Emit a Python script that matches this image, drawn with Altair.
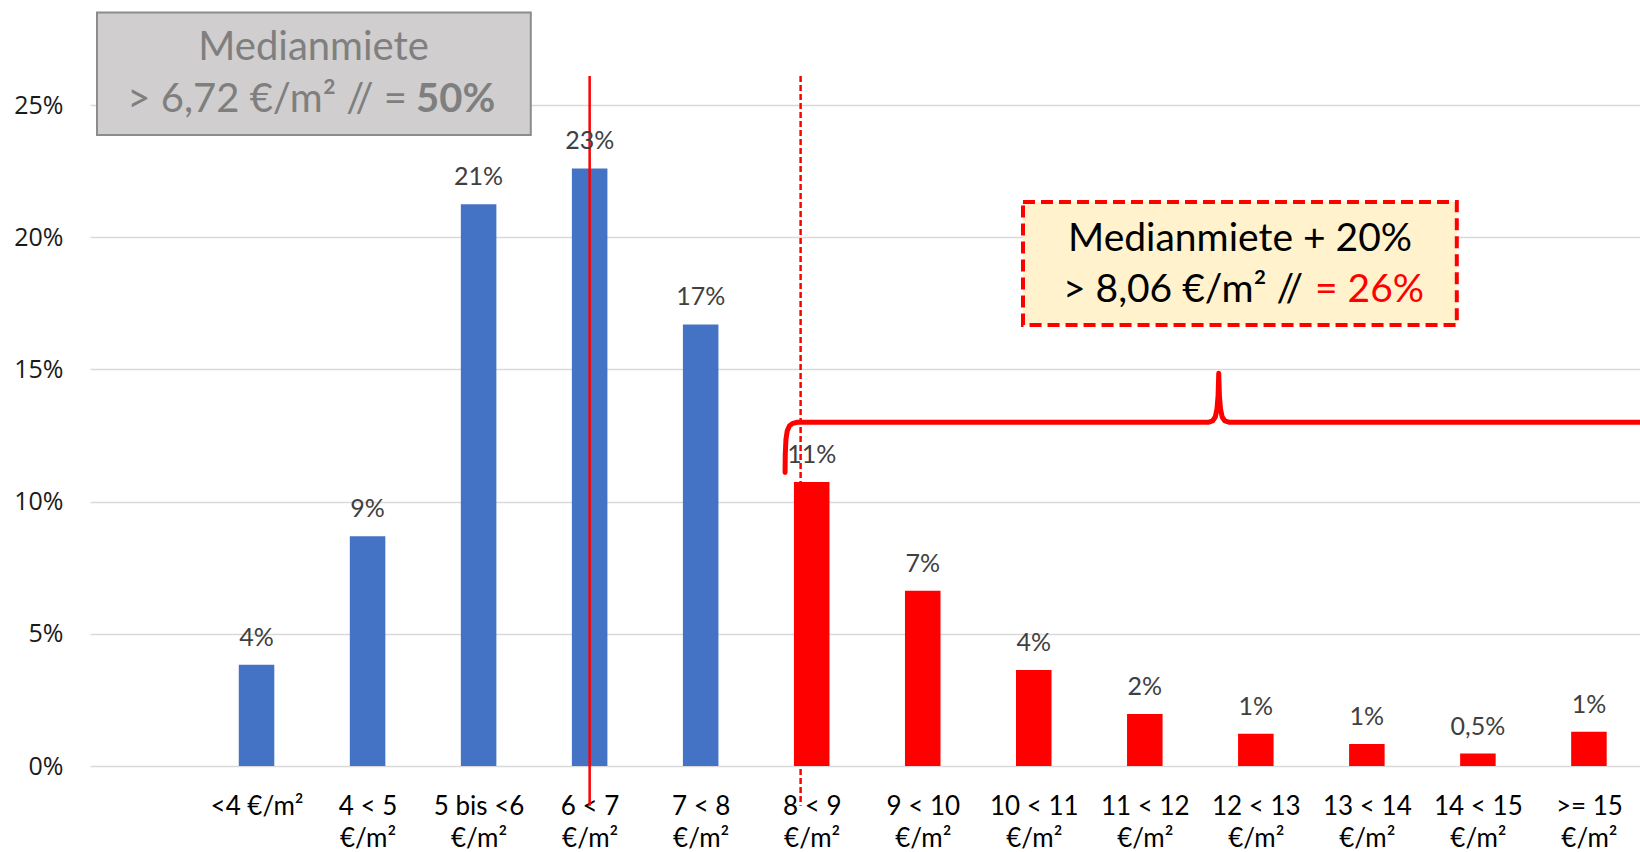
import json
import altair as alt
import pandas as pd

# Rent classes (share of listings per price band)
categories = [
    "<4 €/m²", "4 < 5\n€/m²", "5 bis <6\n€/m²", "6 < 7\n€/m²", "7 < 8\n€/m²",
    "8 < 9\n€/m²", "9 < 10\n€/m²", "10 < 11\n€/m²", "11 < 12\n€/m²",
    "12 < 13\n€/m²", "13 < 14\n€/m²", "14 < 15\n€/m²", ">= 15\n€/m²",
]
shares = [3.83, 8.69, 21.25, 22.6, 16.7, 10.74, 6.63, 3.63, 1.97, 1.22, 0.83, 0.47, 1.30]
share_labels = ["4%", "9%", "21%", "23%", "17%", "11%", "7%", "4%", "2%", "1%", "1%", "0,5%", "1%"]
segments = ["bis 8 €/m²"] * 5 + ["über 8 €/m²"] * 8
y_ticks = [0, 5, 10, 15, 20, 25]

BLUE = "#4472C4"
RED = "#FF0000"
FONT = "Lato"

# slot 0 of the axis is left empty, the bands start at slot 1
df = pd.DataFrame({
    "slot": [i + 1.5 for i in range(len(categories))],
    "share": shares,
    "label": share_labels,
    "segment": segments,
})

XMAX = 13.96
xscale = alt.Scale(domain=[0, XMAX], nice=False, zero=False)
yscale = alt.Scale(domain=[0, 25], nice=False, zero=True)

label_array = json.dumps(categories, ensure_ascii=False)
x_axis = alt.Axis(
    values=[i + 1.5 for i in range(len(categories))],
    labelExpr=f"split({label_array}[round(datum.value - 1.5)], '\\n')",
    grid=False, ticks=False, domain=False, title=None,
    labelFont=FONT, labelFontSize=26, labelColor="#000000",
    labelBaseline="top", labelPadding=27, labelLineHeight=32,
    labelFlush=False, labelOverlap=False, labelBound=False,
)
y_axis = alt.Axis(
    values=y_ticks, labelExpr="datum.value + '%'",
    grid=True, gridColor="#D9D9D9", gridWidth=1.5,
    ticks=False, domain=False, title=None,
    labelFont="Open Sans", labelFontSize=25, labelColor="#1A1A1A",
    labelPadding=27,
)


def X(field):
    return alt.X(field, type="quantitative", scale=xscale, axis=x_axis, title=None)


def Y(field):
    return alt.Y(field, type="quantitative", scale=yscale, axis=y_axis, title=None)


bars = alt.Chart(df).transform_calculate(
    x0="datum.slot - 0.16", x1="datum.slot + 0.16"
).mark_bar().encode(
    x=X("x0"),
    x2="x1:Q",
    y=Y("share"),
    y2=alt.datum(0),
    color=alt.Color("segment:N", scale=alt.Scale(domain=["bis 8 €/m²", "über 8 €/m²"],
                                                 range=[BLUE, RED]), legend=None),
)

value_labels = alt.Chart(df).mark_text(
    font=FONT, fontSize=25, color="#404040", baseline="middle", dy=-27
).encode(x=X("slot"), y=Y("share"), text="label:N")

# Median (6,72 €/m²) and median + 20 % (8,06 €/m²)
median_df = pd.DataFrame({"x": [4.5], "y": [26.1], "y2": [-1.5]})
median_plus_df = pd.DataFrame({"x": [6.4], "y": [26.1], "y2": [-1.5]})
median_rule = alt.Chart(median_df).mark_rule(color=RED, strokeWidth=2.5).encode(
    x=X("x"), y=Y("y"), y2="y2")
median_plus_rule = alt.Chart(median_plus_df).mark_rule(
    color=RED, strokeWidth=2.5, strokeDash=[6, 3]).encode(x=X("x"), y=Y("y"), y2="y2")

# Curly brace over the classes above median + 20 %
brace_x = [6.260, 6.262, 6.268, 6.280, 6.300, 6.330, 6.370, 10.070,
           10.110, 10.135, 10.150, 10.160, 10.166,
           10.172, 10.182, 10.197, 10.222, 10.262, XMAX]
brace_y = [11.10, 11.80, 12.35, 12.68, 12.87, 12.96, 13.0, 13.0,
           13.05, 13.2, 13.5, 14.0, 14.85,
           14.0, 13.5, 13.2, 13.05, 13.0, 13.0]
brace_df = pd.DataFrame({"x": brace_x, "y": brace_y, "o": range(len(brace_x))})
brace = alt.Chart(brace_df).mark_line(
    color=RED, strokeWidth=5, strokeCap="round", strokeJoin="round"
).encode(x=X("x"), y=Y("y"), order="o:Q")

# Box: Medianmiete
grey_box = alt.Chart(pd.DataFrame({"x": [0.063], "x2": [3.97], "y": [28.5], "y2": [23.87]})).mark_rect(
    fill="#D0CECE", stroke="#8C8C8C", strokeWidth=2
).encode(x=X("x"), x2="x2", y=Y("y"), y2="y2")
grey_line1 = alt.Chart(pd.DataFrame({"x": [2.014], "y": [27.15], "t": ["Medianmiete"]})).mark_text(
    font=FONT, fontSize=40, color="#7F7F7F", baseline="middle", align="center"
).encode(x=X("x"), y=Y("y"), text="t:N")
grey_line2a = alt.Chart(pd.DataFrame({"x": [2.855], "y": [25.18], "t": ["> 6,72 €/m² // ="]})).mark_text(
    font=FONT, fontSize=40, color="#7F7F7F", baseline="middle", align="right"
).encode(x=X("x"), y=Y("y"), text="t:N")
grey_line2b = alt.Chart(pd.DataFrame({"x": [2.936], "y": [25.18], "t": ["50%"]})).mark_text(
    font=FONT, fontSize=40, color="#7F7F7F", fontWeight="bold", baseline="middle", align="left"
).encode(x=X("x"), y=Y("y"), text="t:N")

# Box: Medianmiete + 20 %
yellow_box = alt.Chart(pd.DataFrame({"x": [8.403], "x2": [12.31], "y": [21.33], "y2": [16.68]})).mark_rect(
    fill="#FFF2CC", stroke=RED, strokeWidth=4, strokeDash=[12, 6]
).encode(x=X("x"), x2="x2", y=Y("y"), y2="y2")
yellow_line1 = alt.Chart(pd.DataFrame({"x": [10.358], "y": [19.95], "t": ["Medianmiete + 20%"]})).mark_text(
    font=FONT, fontSize=39, color="#000000", baseline="middle", align="center"
).encode(x=X("x"), y=Y("y"), text="t:N")
yellow_line2a = alt.Chart(pd.DataFrame({"x": [10.925], "y": [18.0], "t": ["> 8,06 €/m² //"]})).mark_text(
    font=FONT, fontSize=39, color="#000000", baseline="middle", align="right"
).encode(x=X("x"), y=Y("y"), text="t:N")
yellow_line2b = alt.Chart(pd.DataFrame({"x": [11.033], "y": [18.0], "t": ["= 26%"]})).mark_text(
    font=FONT, fontSize=39, color=RED, baseline="middle", align="left"
).encode(x=X("x"), y=Y("y"), text="t:N")

chart = alt.layer(
    bars, median_rule, median_plus_rule, value_labels, brace,
    grey_box, grey_line1, grey_line2a, grey_line2b,
    yellow_box, yellow_line1, yellow_line2a, yellow_line2b,
).properties(
    width=1550, height=661,
    padding={"left": 90, "top": 105, "right": 0, "bottom": 86},
    autosize=alt.AutoSizeParams(type="none"),
    background="#FFFFFF",
).configure_view(stroke=None)

chart.save("out.html", embed_options={"renderer": "svg", "actions": False})
